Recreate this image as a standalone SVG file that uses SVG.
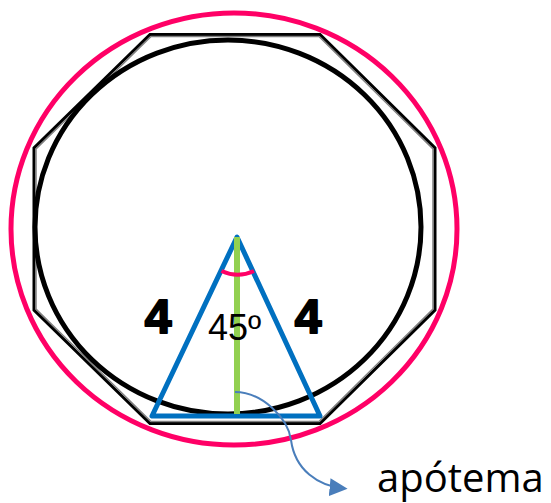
<svg xmlns="http://www.w3.org/2000/svg" width="551" height="503" viewBox="0 0 551 503">
<style>
.lbl4{font-family:"Liberation Sans",Arial,sans-serif;font-weight:bold;font-size:48px;fill:#000;stroke:#000;stroke-width:2;stroke-linejoin:round;text-anchor:middle}
.ang{font-family:"Liberation Sans",Arial,sans-serif;font-size:36px;fill:#000}
.apo{font-family:"Open Sans","Noto Sans",sans-serif;font-size:40px;fill:#000}
</style>
<defs>
<marker id="ah" viewBox="0 0 10 10" refX="8" refY="5" markerWidth="9" markerHeight="9" orient="auto" markerUnits="strokeWidth">
<path d="M0,0 L10,5 L0,10 z" fill="#4A7EBB"/>
</marker>
</defs>
<rect width="551" height="503" fill="#fff"/>
<g id="circumcircle">
<ellipse cx="234" cy="229" rx="223" ry="216" fill="none" stroke="#FF0066" stroke-width="5"/>
</g>
<g id="octagon">
<polygon points="150,34.5 320,34.5 435,148 435,310 320,423.5 150,423.5 34,310 34,148" fill="none" stroke="#000" stroke-width="3"/>
<polygon points="151,36.5 319,36.5 433,149 433,309 319,421.5 151,421.5 36,309 36,149" fill="none" stroke="#808080" stroke-width="1.5"/>
</g>
<g id="incircle">
<ellipse cx="228" cy="227" rx="193" ry="187" fill="none" stroke="#000" stroke-width="5"/>
</g>
<g id="triangle">
<polygon points="237,237 152,416 320,416" fill="none" stroke="#0070C0" stroke-width="5" stroke-linejoin="round"/>
</g>
<g id="apothem">
<line x1="237" y1="237" x2="237" y2="414" stroke="#92D050" stroke-width="6"/>
</g>
<g id="angle">
<path d="M221.5,271 A39,39 0 0 0 254,271" fill="none" stroke="#FF0066" stroke-width="4"/>
</g>
<g id="labels">
<text class="lbl4" x="158" y="333">4</text>
<text class="lbl4" x="308" y="333">4</text>
<text class="ang" x="208" y="340">45º</text>
<text class="apo" x="377" y="492">apótema</text>
</g>
<g id="connectors">
<path d="M235,392 C262,392 288,418 291,440 C295,470 318,486 344,488.5" fill="none" stroke="#4A7EBB" stroke-width="2" marker-end="url(#ah)"/>
</g>
</svg>
